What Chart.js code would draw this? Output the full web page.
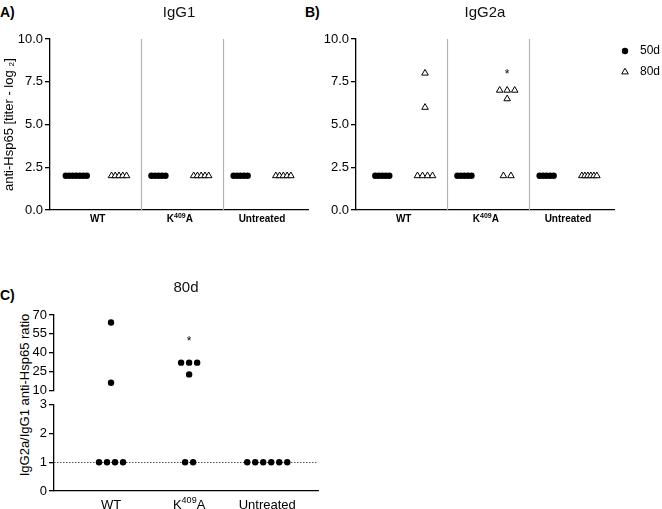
<!DOCTYPE html>
<html>
<head>
<meta charset="utf-8">
<script src="https://cdn.jsdelivr.net/npm/chart.js@4.4.1/dist/chart.umd.min.js"></script>
<style>
  body { margin: 0; background: #fff; width: 662px; height: 509px; overflow: hidden; position: relative;
         font-family: "Liberation Sans", Arial, sans-serif; color: #000; }
  canvas { position: absolute; }
  .panel { position: absolute; font-weight: bold; font-size: 14px; line-height: 16px; }
  #ratioTitle { position: absolute; left: 24px; top: 395px; font-size: 13px; white-space: nowrap;
                transform: translate(-50%, -50%) rotate(-90deg); }
</style>
</head>
<body>
<div class="panel" style="left:0;top:4px">A)</div>
<div class="panel" style="left:305px;top:4px">B)</div>
<div class="panel" style="left:0;top:287px">C)</div>
<div id="ratioTitle">IgG2a/IgG1 anti-Hsp65 ratio</div>

<canvas id="chartA" width="330" height="232" style="left:0;top:0"></canvas>
<canvas id="chartB" width="340" height="232" style="left:322px;top:0"></canvas>
<canvas id="chartC1" width="330" height="140" style="left:0;top:260px"></canvas>
<canvas id="chartC2" width="330" height="114" style="left:0;top:395px"></canvas>

<script>
// groups on the x axis (^{..} = superscript)
const groups = ['WT', 'K^{409}A', 'Untreated'];

// anti-Hsp65 titers (log2), one list per group
const igg1_50d = [[2, 2, 2, 2, 2, 2, 2], [2, 2, 2, 2, 2], [2, 2, 2, 2, 2]];
const igg1_80d = [[2, 2, 2, 2, 2], [2, 2, 2, 2, 2], [2, 2, 2, 2, 2]];
const igg2a_50d = [[2, 2, 2, 2, 2], [2, 2, 2, 2, 2], [2, 2, 2, 2, 2]];
const igg2a_80d = [[8, 6, 2, 2, 2, 2], [7, 7, 7, 6.5, 2, 2], [2, 2, 2, 2, 2, 2]];

// IgG2a/IgG1 ratio at 80d
const ratio_80d = [[64, 16, 1, 1, 1, 1], [32, 32, 32, 22.6, 1, 1], [1, 1, 1, 1, 1, 1]];

// tick labels
const titerTicks = [0, 2.5, 5, 7.5, 10];
const ratioTicksHigh = [10, 25, 40, 55, 70];
const ratioTicksLow = [0, 1, 2, 3];

// significance marks
const igg2aStars = [{group: 1, value: 8.1}];
const ratioStars = [{group: 1, value: 51}];
const ratioBaseline = 1;

const FONT = '"Liberation Sans", Arial, sans-serif';
Chart.defaults.font.family = FONT;
Chart.defaults.color = '#000';

const AB_UNIT = 82;   // px per group on panels A/B
const C_UNIT = 78;    // px per group on panel C
const SHIFT_50 = -0.26, SHIFT_80 = 0.26;

// spread equal values side by side around the group position
function spread(sets, shift, unitPx, step, maxSpan, keep) {
    let pts = [];
    sets.forEach((vals, g) => {
        vals = vals.filter(keep || (() => true));
        let seen = [];
        vals.forEach(v => { if (!seen.includes(v)) seen.push(v); });
        seen.forEach(v => {
            let n = vals.filter(u => u === v).length;
            let gap = (n > 1 && maxSpan) ? Math.min(step, maxSpan / (n - 1)) : step;
            for (let i = 0; i < n; i++) {
                pts.push({x: g + shift + (i - (n - 1) / 2) * gap / unitPx, y: v});
            }
        });
    });
    return pts;
}

function dividers(at) {
    return {
        id: 'dividers',
        beforeDatasetsDraw(chart) {
            let {ctx, chartArea: a, scales: {x}} = chart;
            ctx.save();
            ctx.strokeStyle = '#b3b3b3';
            ctx.lineWidth = 1.2;
            at.forEach(v => {
                let px = Math.round(x.getPixelForValue(v)) + 0.5;
                ctx.beginPath();
                ctx.moveTo(px, a.top);
                ctx.lineTo(px, a.bottom);
                ctx.stroke();
            });
            ctx.restore();
        }
    };
}

function starMarks(list, shift) {
    return {
        id: 'stars',
        afterDatasetsDraw(chart) {
            let {ctx, scales: {x, y}} = chart;
            ctx.save();
            ctx.fillStyle = '#000';
            ctx.font = '12px ' + FONT;
            ctx.textAlign = 'center';
            ctx.textBaseline = 'middle';
            list.forEach(s => ctx.fillText('*', x.getPixelForValue(s.group + shift), y.getPixelForValue(s.value) + 3));
            ctx.restore();
        }
    };
}

function refLine(value) {
    return {
        id: 'refLine',
        beforeDatasetsDraw(chart) {
            let {ctx, chartArea: a, scales: {y}} = chart;
            let py = Math.round(y.getPixelForValue(value)) + 0.5;
            ctx.save();
            ctx.setLineDash([1.5, 1.5]);
            ctx.strokeStyle = '#555';
            ctx.lineWidth = 1;
            ctx.beginPath();
            ctx.moveTo(a.left, py);
            ctx.lineTo(a.right, py);
            ctx.stroke();
            ctx.restore();
        }
    };
}

// x labels with superscript parts, drawn under each group position
function groupLabels(size, weight, drop) {
    return {
        id: 'groupLabels',
        afterDraw(chart) {
            let {ctx, chartArea: a, scales: {x}} = chart;
            let base = a.bottom + drop;
            let normal = weight + ' ' + size + 'px ' + FONT;
            let small = weight + ' ' + Math.round(size * 0.7) + 'px ' + FONT;
            ctx.save();
            ctx.fillStyle = '#000';
            ctx.textAlign = 'left';
            ctx.textBaseline = 'alphabetic';
            groups.forEach((g, i) => {
                let parts = g.split(/\^\{|\}/).map((t, k) => ({t: t, sup: k % 2 === 1})).filter(p => p.t);
                let w = 0;
                parts.forEach(p => { ctx.font = p.sup ? small : normal; p.w = ctx.measureText(p.t).width; w += p.w; });
                let px = x.getPixelForValue(i) - w / 2;
                parts.forEach(p => {
                    ctx.font = p.sup ? small : normal;
                    ctx.fillText(p.t, px, p.sup ? base - size * 0.42 : base);
                    px += p.w;
                });
            });
            ctx.restore();
        }
    };
}

// legend drawn to the right of the plot on panel B
const sideLegend = {
    id: 'sideLegend',
    afterDraw(chart) {
        let {ctx, chartArea: a} = chart;
        chart.data.datasets.forEach((ds, i) => {
            let cx = a.right + 11, cy = a.top + 12 + i * 21;
            ctx.save();
            ctx.fillStyle = ds.backgroundColor;
            ctx.strokeStyle = ds.borderColor;
            ctx.lineWidth = ds.borderWidth || 0;
            Chart.helpers.drawPoint(ctx, {pointStyle: ds.pointStyle, radius: ds.pointRadius,
                borderWidth: ds.borderWidth || 0, rotation: 0}, cx, cy);
            ctx.fillStyle = '#000';
            ctx.font = '12px ' + FONT;
            ctx.textAlign = 'left';
            ctx.textBaseline = 'middle';
            ctx.fillText(ds.label, cx + 15, cy);
            ctx.restore();
        });
    }
};

function yAxis(min, max, tickList, fmt, width, title) {
    return {
        type: 'linear', min: min, max: max,
        afterBuildTicks: s => { s.ticks = tickList.map(v => ({value: v})); },
        afterFit: s => { s.width = width; },
        ticks: {callback: fmt, font: {size: 13}, padding: 2, color: '#000', autoSkip: false},
        grid: {display: true, drawOnChartArea: false, drawTicks: true, tickLength: 5, color: '#000', lineWidth: 1.3},
        border: {display: true, color: '#000', width: 1.3},
        title: title ? {display: true, text: title, font: {size: 13}, color: '#000', padding: {top: 2, bottom: 2}} : {display: false}
    };
}

function xAxis(min, max, height, show) {
    return {
        type: 'linear', min: min, max: max, display: show,
        afterFit: s => { if (show) s.height = height; },
        ticks: {display: false},
        grid: {display: false, drawTicks: false},
        border: {display: true, color: '#000', width: 1.3}
    };
}

function titerSets(d50, d80) {
    return [{
        label: '50d',
        data: spread(d50, SHIFT_50, AB_UNIT, 3.5),
        pointStyle: 'circle', pointRadius: 3.2,
        backgroundColor: '#000', borderColor: '#000', borderWidth: 0
    }, {
        label: '80d',
        data: spread(d80, SHIFT_80, AB_UNIT, 7.5, 15),
        pointStyle: 'triangle', pointRadius: 3.8,
        backgroundColor: '#fff', borderColor: '#000', borderWidth: 1
    }];
}

function titleOpts(text, top, bottom) {
    return {display: true, text: text, fullSize: false, color: '#111',
            font: {size: 15, weight: 'normal'}, padding: {top: top, bottom: bottom}};
}

const fmt1 = v => v.toFixed(1);

new Chart(document.getElementById('chartA'), {
    type: 'scatter',
    data: {datasets: titerSets(igg1_50d, igg1_80d)},
    options: {
        responsive: false, animation: false, events: [],
        layout: {padding: {right: 22}},
        plugins: {legend: {display: false}, tooltip: {enabled: false}, title: titleOpts('IgG1', 4, 17)},
        scales: {
            x: xAxis(-0.58, 2.56, 22, true),
            y: yAxis(0, 10, titerTicks, fmt1, 50, 'anti-Hsp65 [titer - log ₂]')
        }
    },
    plugins: [dividers([0.53, 1.53]), groupLabels(10, 'bold', 12)]
});

new Chart(document.getElementById('chartB'), {
    type: 'scatter',
    data: {datasets: titerSets(igg2a_50d, igg2a_80d)},
    options: {
        responsive: false, animation: false, events: [],
        layout: {padding: {right: 48}},
        plugins: {legend: {display: false}, tooltip: {enabled: false}, title: titleOpts('IgG2a', 4, 17)},
        scales: {
            x: xAxis(-0.58, 2.56, 22, true),
            y: yAxis(0, 10, titerTicks, fmt1, 34)
        }
    },
    plugins: [dividers([0.53, 1.53]), starMarks(igg2aStars, SHIFT_80), sideLegend, groupLabels(10, 'bold', 12)]
});

function ratioSet(keep) {
    return [{
        label: '80d',
        data: spread(ratio_80d, 0, C_UNIT, 8, 0, keep),
        pointStyle: 'circle', pointRadius: 3.2,
        backgroundColor: '#000', borderColor: '#000', borderWidth: 0
    }];
}

new Chart(document.getElementById('chartC1'), {
    type: 'scatter',
    data: {datasets: ratioSet(v => v > 3)},
    options: {
        responsive: false, animation: false, events: [],
        layout: {padding: {right: 12, bottom: 9}},
        plugins: {legend: {display: false}, tooltip: {enabled: false}, title: titleOpts('80d', 19, 18)},
        scales: {
            x: xAxis(-0.73, 2.65, 0, false),
            y: yAxis(10, 70, ratioTicksHigh, v => String(v), 54)
        }
    },
    plugins: [starMarks(ratioStars, 0)]
});

new Chart(document.getElementById('chartC2'), {
    type: 'scatter',
    data: {datasets: ratioSet(v => v <= 3)},
    options: {
        responsive: false, animation: false, events: [],
        layout: {padding: {top: 9, right: 12}},
        plugins: {legend: {display: false}, tooltip: {enabled: false}},
        scales: {
            x: xAxis(-0.73, 2.65, 18, true),
            y: yAxis(0, 3, ratioTicksLow, v => String(v), 54)
        }
    },
    plugins: [refLine(ratioBaseline), groupLabels(13, 'normal', 17.5)]
});
</script>
</body>
</html>
